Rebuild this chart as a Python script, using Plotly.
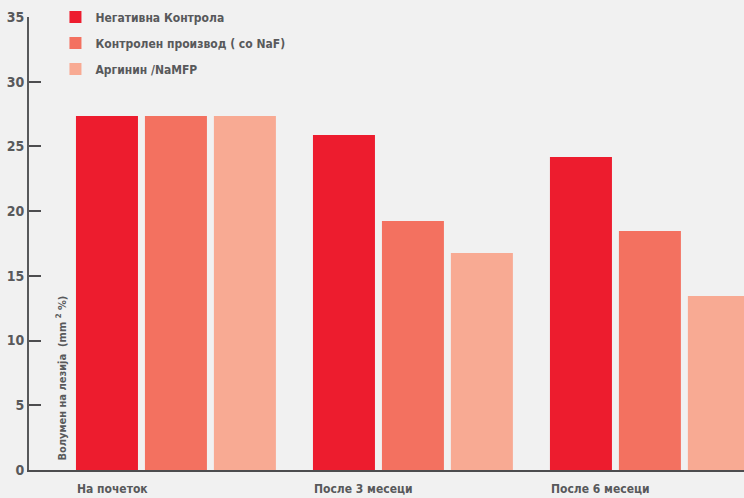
import plotly.graph_objects as go

categories = ["На почеток", "После 3 месеци", "После 6 месеци"]
series_names = ["Негативна Контрола", "Контролен производ ( со NaF)", "Аргинин /NaMFP"]
neg_control = [27.35, 25.88, 24.18]
naf_control = [27.35, 19.24, 18.47]
arginine = [27.35, 16.77, 13.44]
y_ticks = [0, 5, 10, 15, 20, 25, 30, 35]

colors = ["#ed1c2e", "#f37160", "#f8aa93"]
FONT = "DejaVu Sans Condensed, DejaVu Sans, sans-serif"
TXT = "#58595b"
FS = 12

fig = go.Figure()
for name, vals, col in zip(series_names, [neg_control, naf_control, arginine], colors):
    fig.add_trace(go.Bar(x=list(range(len(categories))), y=vals, name=name,
                         marker=dict(color=col, line=dict(width=0)), legendgroup=name))

for i, c in enumerate(categories):
    fig.add_annotation(x=i, y=0, xref="x", yref="paper", text="<b>%s</b>" % c,
                       showarrow=False, xanchor="left", yanchor="top", xshift=-101, yshift=-10,
                       font=dict(family=FONT, size=FS, color=TXT))

fig.add_annotation(x=0.046, xref="paper", y=0.6, yref="y",
                   text="<b>Волумен на лезија  (mm <sup>2</sup> %)</b>", textangle=-90,
                   showarrow=False, xanchor="center", yanchor="bottom",
                   font=dict(family=FONT, size=11, color=TXT))

fig.update_layout(
    width=744, height=498,
    margin=dict(l=29, r=0, t=17, b=28),
    paper_bgcolor="#f1f1f1", plot_bgcolor="#f1f1f1",
    barmode="group", bargap=0.127, bargroupgap=0.101,
    font=dict(family=FONT, size=FS, color=TXT),
    showlegend=True,
    legend=dict(x=0.037, y=1.032, xanchor="left", yanchor="top", bgcolor="rgba(0,0,0,0)",
                font=dict(family=FONT, size=FS, color=TXT, weight="bold"),
                tracegroupgap=7, itemwidth=30),
    xaxis=dict(range=[-0.62, 2.397], showticklabels=False, ticks="", showgrid=False,
               zeroline=False, showline=True, linecolor="#4d4d4f", linewidth=2),
    yaxis=dict(range=[0, 35], tickvals=y_ticks, ticks="inside", ticklen=12, tickwidth=2,
               tickcolor="#4d4d4f", showgrid=False, zeroline=False, showline=True,
               linecolor="#58595b", linewidth=2,
               tickfont=dict(family=FONT, size=14, color=TXT, weight="bold")),
)

fig.write_html("out.html")
